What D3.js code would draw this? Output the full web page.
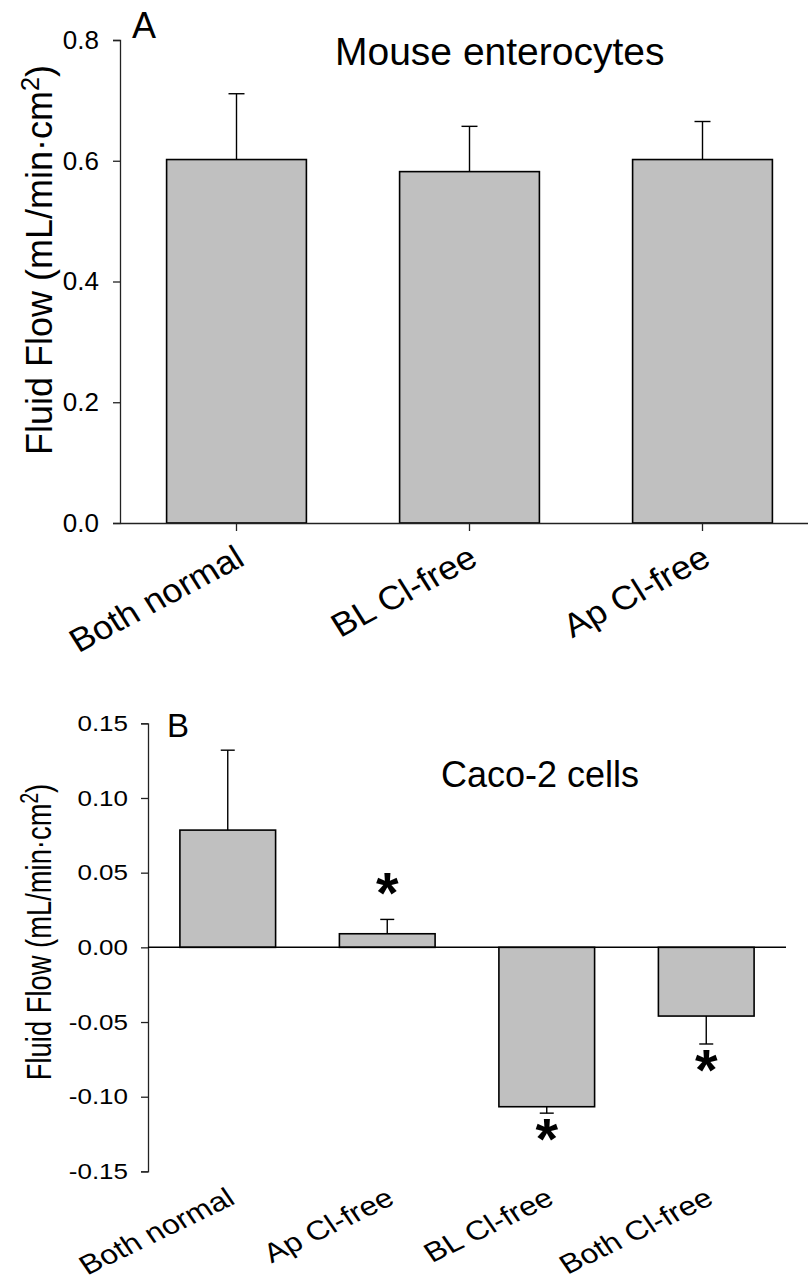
<!DOCTYPE html>
<html>
<head>
<meta charset="utf-8">
<script src="https://cdn.jsdelivr.net/npm/d3@7"></script>
<style>
  html, body { margin: 0; padding: 0; background: #fff; }
  svg { display: block; }
  text { font-family: "Liberation Sans", Arial, sans-serif; fill: #000; }
</style>
</head>
<body>
<svg id="chart" width="808" height="1288"></svg>
<script>
// ---- Data ----
const catsA = ["Both normal", "BL Cl-free", "Ap Cl-free"];
const meanA = [0.602, 0.582, 0.602];
const semA  = [0.109, 0.075, 0.063];
const ticksA = [0, 0.2, 0.4, 0.6, 0.8];

const catsB = ["Both normal", "Ap Cl-free", "BL Cl-free", "Both Cl-free"];
const meanB = [0.0785, 0.0091, -0.1067, -0.046];
const semB  = [0.0535, 0.0096, 0.0043, 0.0187];
const sigB  = [false, true, true, true];
const ticksB = [-0.15, -0.10, -0.05, 0.00, 0.05, 0.10, 0.15];

const svg = d3.select("#chart");
const FONT = '"Liberation Sans", Arial, sans-serif';

function yTitle(g, x, y, size, sy) {
  const t = g.append("text")
    .attr("transform", `translate(${x},${y}) scale(1,${sy}) rotate(-90)`)
    .attr("text-anchor", "middle")
    .style("font-size", size + "px");
  t.append("tspan").text("Fluid Flow (mL/min\u00B7cm");
  t.append("tspan").attr("dy", "-0.5em").style("font-size", "0.7em").text("2");
  t.append("tspan").attr("dy", "0.35em").text(")");
}

// ---------- Panel A ----------
{
  const g = svg.append("g");
  const x = d3.scaleBand().domain(catsA).range([120, 819]).paddingInner(0.4).paddingOuter(0.2);
  const y = d3.scaleLinear().domain([0, 0.8]).range([523, 40]);

  g.selectAll("rect.bar").data(catsA).join("rect")
    .attr("x", d => x(d)).attr("width", x.bandwidth())
    .attr("y", (d, i) => y(meanA[i])).attr("height", (d, i) => y(0) - y(meanA[i]))
    .attr("fill", "#c0c0c0").attr("stroke", "#000").attr("stroke-width", 1.6);

  catsA.forEach((c, i) => {
    const cx = x(c) + x.bandwidth() / 2;
    g.append("line").attr("x1", cx).attr("x2", cx)
      .attr("y1", y(meanA[i])).attr("y2", y(meanA[i] + semA[i]))
      .attr("stroke", "#000").attr("stroke-width", 1.4);
    g.append("line").attr("x1", cx - 8).attr("x2", cx + 8)
      .attr("y1", y(meanA[i] + semA[i])).attr("y2", y(meanA[i] + semA[i]))
      .attr("stroke", "#000").attr("stroke-width", 1.4);
  });

  const ya = g.append("g").attr("transform", "translate(120,0)")
    .call(d3.axisLeft(y).tickValues(ticksA).tickFormat(d => d.toFixed(1)).tickSizeOuter(0).tickSize(7).tickPadding(14));
  ya.selectAll("text").style("font-size", "26px").style("font-family", FONT).attr("fill", "#000");
  ya.selectAll("line, path").attr("stroke", "#222").attr("stroke-width", 1.3);

  const xa = g.append("g").attr("transform", "translate(0,523)")
    .call(d3.axisBottom(x).tickSize(8).tickSizeOuter(0).tickFormat(""));
  xa.select("path").attr("stroke", "#222").attr("stroke-width", 1.6);
  xa.selectAll("line").attr("stroke", "#222").attr("stroke-width", 1.3);

  g.selectAll("text.xl").data(catsA).join("text")
    .attr("class", "xl")
    .attr("transform", d => `translate(${x(d) + x.bandwidth() / 2 + 10},564) scale(1,0.92) rotate(-30)`)
    .attr("text-anchor", "end")
    .style("font-size", "36px")
    .text(d => d);

  yTitle(g, 52, 260, 36, 1);

  g.append("text").attr("x", 132).attr("y", 38).style("font-size", "36px").text("A");
  g.append("text").attr("x", 335).attr("y", 65).style("font-size", "39px").text("Mouse enterocytes");
}

// ---------- Panel B ----------
{
  const g = svg.append("g");
  const x = d3.scaleBand().domain(catsB).range([148, 786]).paddingInner(0.4).paddingOuter(0.2);
  const y = d3.scaleLinear().domain([-0.15, 0.15]).range([1171.4, 723.3]);

  g.selectAll("rect.bar").data(catsB).join("rect")
    .attr("x", d => x(d)).attr("width", x.bandwidth())
    .attr("y", (d, i) => Math.min(y(meanB[i]), y(0)))
    .attr("height", (d, i) => Math.abs(y(0) - y(meanB[i])))
    .attr("fill", "#c0c0c0").attr("stroke", "#000").attr("stroke-width", 1.6);

  catsB.forEach((c, i) => {
    const cx = x(c) + x.bandwidth() / 2;
    const sign = meanB[i] >= 0 ? 1 : -1;
    const end = meanB[i] + sign * semB[i];
    g.append("line").attr("x1", cx).attr("x2", cx)
      .attr("y1", y(meanB[i])).attr("y2", y(end))
      .attr("stroke", "#000").attr("stroke-width", 1.4);
    g.append("line").attr("x1", cx - 7).attr("x2", cx + 7)
      .attr("y1", y(end)).attr("y2", y(end))
      .attr("stroke", "#000").attr("stroke-width", 1.4);
    if (sigB[i]) {
      const cy = sign > 0 ? y(end) - 33 : y(end) + 19;
      g.append("text").attr("x", cx).attr("y", cy + 27)
        .attr("text-anchor", "middle")
        .style("font-size", "58px").style("font-weight", "bold")
        .text("*");
    }
  });

  const ya = g.append("g").attr("transform", "translate(148,0)")
    .call(d3.axisLeft(y).tickValues(ticksB).tickFormat(d => d.toFixed(2)).tickSizeOuter(0).tickSize(7).tickPadding(13));
  ya.selectAll("text")
    .style("font-size", "26px").style("font-family", FONT).attr("fill", "#000")
    .attr("transform", "scale(1,0.85)");
  ya.selectAll("line, path").attr("stroke", "#222").attr("stroke-width", 1.3);

  g.append("line").attr("x1", 148).attr("x2", 786)
    .attr("y1", y(0)).attr("y2", y(0))
    .attr("stroke", "#000").attr("stroke-width", 1.5);

  g.selectAll("text.xl").data(catsB).join("text")
    .attr("class", "xl")
    .attr("transform", d => `translate(${x(d) + x.bandwidth() / 2 + 9},1203) scale(1,0.84) rotate(-30)`)
    .attr("text-anchor", "end")
    .style("font-size", "32px")
    .text(d => d);

  yTitle(g, 51, 932, 36, 0.76);

  g.append("text").attr("x", 167).attr("y", 737).style("font-size", "33px").text("B");
  g.append("text").attr("x", 441).attr("y", 787).style("font-size", "36px").text("Caco-2 cells");
}
</script>
</body>
</html>
